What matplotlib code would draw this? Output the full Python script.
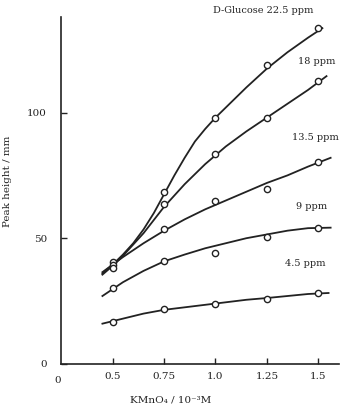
import matplotlib
matplotlib.use("Agg")
import matplotlib.pyplot as plt

# --- measured points (open circles) ---
conc = [0.5, 0.75, 1.0, 1.25, 1.5]
pts_225 = [40.5, 68.5, 98.0, 119.0, 133.5]
pts_18 = [39.5, 63.5, 83.5, 98.0, 112.5]
pts_135 = [38.0, 53.5, 65.0, 69.5, 80.5]
pts_9 = [30.0, 41.0, 44.0, 50.5, 54.0]
pts_45 = [16.8, 21.8, 23.8, 25.8, 28.2]

# --- fitted curves ---
cx_225 = [0.45, 0.5, 0.55, 0.6, 0.65, 0.7, 0.75, 0.8, 0.85, 0.9, 0.95, 1.0,
          1.05, 1.15, 1.25, 1.35, 1.45, 1.52]
cy_225 = [36.0, 39.5, 43.5, 48.0, 53.5, 60.0, 67.5, 75.0, 82.0, 88.5, 93.5, 98.0,
          102.0, 110.0, 117.5, 124.0, 129.8, 133.6]
cx_18 = [0.45, 0.5, 0.55, 0.65, 0.75, 0.85, 0.95, 1.05, 1.15, 1.25, 1.35, 1.45, 1.54]
cy_18 = [35.5, 39.0, 43.0, 52.0, 62.5, 71.5, 79.5, 86.5, 92.5, 98.0, 103.5, 109.0, 114.5]
cx_135 = [0.45, 0.55, 0.65, 0.75, 0.85, 0.95, 1.05, 1.15, 1.25, 1.35, 1.45, 1.56]
cy_135 = [36.5, 42.5, 48.0, 53.0, 57.5, 61.5, 65.0, 68.5, 72.0, 75.0, 78.5, 82.0]
cx_9 = [0.45, 0.55, 0.65, 0.75, 0.85, 0.95, 1.05, 1.15, 1.25, 1.35, 1.45, 1.56]
cy_9 = [27.0, 32.5, 37.0, 40.8, 43.5, 46.0, 48.0, 50.0, 51.5, 53.0, 54.0, 54.2]
cx_45 = [0.45, 0.55, 0.65, 0.75, 0.85, 0.95, 1.05, 1.15, 1.25, 1.35, 1.45, 1.55]
cy_45 = [16.0, 18.0, 20.0, 21.5, 22.5, 23.5, 24.5, 25.5, 26.2, 27.0, 27.8, 28.2]

labels = ["D-Glucose 22.5 ppm", "18 ppm", "13.5 ppm", "9 ppm", "4.5 ppm"]
xticks = [0.5, 0.75, 1.0, 1.25, 1.5]
xticklabels = ["0.5", "0.75", "1.0", "1.25", "1.5"]
yticks = [0, 50, 100]

plt.rcParams["font.family"] = ["DejaVu Serif"]
ink = "#222222"

fig = plt.figure(figsize=(3.44, 4.07), dpi=100)
ax = fig.add_axes([0.177, 0.106, 0.808, 0.852])

curves = [(cx_225, cy_225, pts_225), (cx_18, cy_18, pts_18),
          (cx_135, cy_135, pts_135), (cx_9, cy_9, pts_9),
          (cx_45, cy_45, pts_45)]
for cx, cy, pts in curves:
    ax.plot(cx, cy, "-", color=ink, lw=1.3, zorder=2)
    ax.plot(conc, pts, "o", ms=4.5, mfc="white", mec=ink, mew=1.0, zorder=3)

# curve labels
label_pos = [(1.23, 140.5), (1.49, 120.5), (1.485, 90.0), (1.466, 62.5), (1.437, 40.0)]
for text, (lx, ly) in zip(labels, label_pos):
    ax.text(lx, ly, text, ha="center", va="center", fontsize=7,
            color=ink, clip_on=False)

ax.set_xlim(0.248, 1.6)
ax.set_ylim(0, 138)
ax.set_xticks(xticks)
ax.set_xticklabels(xticklabels)
ax.set_yticks(yticks)
ax.tick_params(direction="in", length=4, width=1.0, labelsize=7.5,
               colors=ink)
ax.tick_params(axis="y", pad=10)
ax.tick_params(axis="x", pad=6)

for side in ["top", "right"]:
    ax.spines[side].set_visible(False)
for side in ["left", "bottom"]:
    ax.spines[side].set_linewidth(1.2)
    ax.spines[side].set_color(ink)

# origin label for the x axis
ax.annotate("0", xy=(0, 0), xycoords="axes fraction", xytext=(-2, -12),
            textcoords="offset points", ha="center", va="center",
            fontsize=7.5, color=ink)

# axis titles placed in figure pixels to match the reference
fig.text(8 / 344, 1 - 181 / 407, "Peak height / mm", rotation=90,
         ha="center", va="center", fontsize=7.5, color=ink)
fig.text(171 / 344, 1 - 400 / 407, "KMnO\u2084 / 10\u207b\u00b3M",
         ha="center", va="center", fontsize=7.5, color=ink)

fig.savefig("out.png", dpi=100)
